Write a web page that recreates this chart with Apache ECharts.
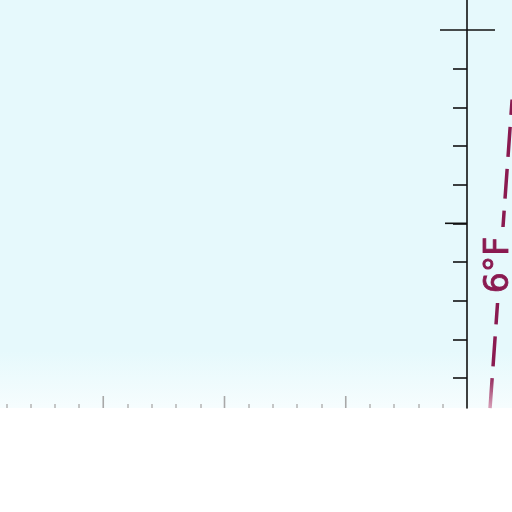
<!DOCTYPE html>
<html>
<head>
<meta charset="utf-8">
<script src="https://cdn.jsdelivr.net/npm/echarts@6/dist/echarts.min.js"></script>
<style>
  html, body { margin: 0; padding: 0; background: #fff; }
  #chart { width: 512px; height: 512px; }
</style>
</head>
<body>
<div id="chart"></div>
<script>
// x in tick steps, 0 = the vertical axis
var xMinorTicks = [-19, -18, -17, -16, -14, -13, -12, -11, -9, -8, -7, -6, -4, -3, -2, -1];
var xMajorTicks = [-15, -10, -5];
// y in tick steps
var yMinorTicks = [1, 2, 3, 4, 5, 6, 7, 8, 9];
var yMidTicks = [5];
var yTopTicks = [10];
// dashed isotherm
var lineX = [0.95, 1.86];
var lineY = [0.22, 8.2];
var lineLabel = '6°F';
var labelPos = [1.32, 3.92];

var lineColor = '#8a1a50';
var bg = '#e6f9fc';
var axisMin = 0.224;

var myChart = echarts.init(document.getElementById('chart'));

function tickItem(params, api) {
    var kind = api.value(2);
    var p = api.coord([api.value(0), api.value(1)]);
    var x1, x2, y1, y2, color = '#111';
    if (kind === 0) {        // big cross tick
        x1 = p[0] - 27; x2 = p[0] + 28; y1 = y2 = p[1];
    } else if (kind === 1) { // mid tick
        x1 = p[0] - 22; x2 = p[0]; y1 = y2 = p[1];
    } else {                 // bottom major tick
        x1 = x2 = p[0]; y1 = p[1]; y2 = p[1] - 12; color = '#a8a8a8';
    }
    return {
        type: 'line',
        shape: {x1: x1, y1: y1, x2: x2, y2: y2},
        style: {stroke: color, lineWidth: 1.6}
    };
}

function labelItem(params, api) {
    var p = api.coord([api.value(0), api.value(1)]);
    return {
        type: 'group',
        x: p[0],
        y: p[1],
        rotation: Math.PI / 2,
        children: [
            {
                type: 'rect',
                shape: {x: -38, y: -16, width: 76, height: 32},
                style: {fill: bg}
            },
            {
                type: 'text',
                style: {
                    text: lineLabel,
                    fill: lineColor,
                    stroke: lineColor,
                    lineWidth: 0.8,
                    font: '33px "DejaVu Sans"',
                    align: 'center',
                    verticalAlign: 'middle'
                }
            }
        ]
    };
}

var tickData = []
    .concat(yTopTicks.map(function (v) { return [0, v, 0]; }))
    .concat(yMidTicks.map(function (v) { return [0, v, 1]; }))
    .concat(xMajorTicks.map(function (v) { return [v, axisMin, 2]; }));

myChart.setOption({
    animation: false,
    grid: {
        left: 0, right: 0, top: 0, bottom: 104,
        show: true,
        borderWidth: 0,
        backgroundColor: {
            type: 'linear', x: 0, y: 0, x2: 0, y2: 1,
            colorStops: [
                {offset: 0, color: bg},
                {offset: 0.86, color: bg},
                {offset: 1, color: '#f6fdfe'}
            ]
        }
    },
    xAxis: {
        type: 'value', min: -19.258, max: 1.856,
        axisLine: {show: false},
        splitLine: {show: false},
        axisLabel: {show: false},
        axisTick: {show: true, inside: true, length: 4, customValues: xMinorTicks,
            lineStyle: {color: '#b4b4b4', width: 1.5}}
    },
    yAxis: {
        type: 'value', min: axisMin, max: 10.775,
        axisLine: {show: true, onZero: true, lineStyle: {color: '#111', width: 1.6}},
        splitLine: {show: false},
        axisLabel: {show: false},
        axisTick: {show: true, length: 14, customValues: yMinorTicks,
            lineStyle: {color: '#111', width: 1.6}}
    },
    series: [
        {
            type: 'custom',
            data: tickData,
            renderItem: tickItem,
            clip: false,
            silent: true
        },
        {
            type: 'line',
            data: lineX.map(function (x, i) { return [x, lineY[i]]; }),
            symbol: 'none',
            lineStyle: {
                width: 3.5,
                type: [30, 12],
                color: {
                    type: 'linear', x: 0, y: 0, x2: 0, y2: 1,
                    colorStops: [
                        {offset: 0, color: lineColor},
                        {offset: 0.88, color: lineColor},
                        {offset: 1, color: '#dcaac0'}
                    ]
                }
            }
        },
        {
            type: 'custom',
            data: [labelPos],
            renderItem: labelItem,
            z: 10,
            silent: true
        }
    ]
});
</script>
</body>
</html>
